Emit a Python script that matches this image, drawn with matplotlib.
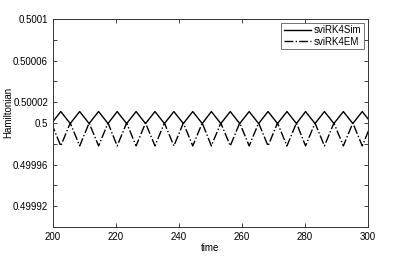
import numpy as np
import matplotlib.pyplot as plt

plt.rcParams['font.family'] = ['Liberation Sans', 'DejaVu Sans']

# times of the maxima of sviRK4Sim (= minima of sviRK4EM)
peak_times = [202.5, 208.5, 214.5, 220.4, 226.4, 232.4, 238.4, 244.4, 250.3,
              256.3, 262.3, 268.3, 274.3, 280.2, 286.2, 292.2, 298.2]
# times of the minima of sviRK4Sim (= maxima of sviRK4EM)
trough_times = [199.5, 205.5, 211.5, 217.5, 223.4, 229.4, 235.4, 241.4, 247.4,
                253.3, 259.3, 265.3, 271.3, 277.3, 283.2, 289.2, 295.2, 301.2]

sim_high = 0.5000110
sim_low = 0.4999995
em_high = 0.5000000
em_low = 0.4999780

yticks = [0.4999, 0.49992, 0.49994, 0.49996, 0.49998, 0.5,
          0.50002, 0.50004, 0.50006, 0.50008, 0.5001]
ytick_labels = ['', '0.49992', '', '0.49996', '', '0.5',
                '0.50002', '', '0.50006', '', '0.5001']
xticks = [200, 220, 240, 260, 280, 300]


def zigzag(t_hi, t_lo, v_hi, v_lo):
    t = np.array(t_hi + t_lo)
    v = np.array([v_hi] * len(t_hi) + [v_lo] * len(t_lo))
    order = np.argsort(t)
    return t[order], v[order]


t_sim, h_sim = zigzag(peak_times, trough_times, sim_high, sim_low)
t_em, h_em = zigzag(trough_times, peak_times, em_high, em_low)

fig = plt.figure(figsize=(4.07, 2.56), dpi=100)
ax = fig.add_axes([0.130, 0.113, 0.774, 0.813])

ax.plot(t_sim, h_sim, color='black', lw=1.0, label='sviRK4Sim')
ax.plot(t_em, h_em, color='black', lw=1.0, ls='-.', label='sviRK4EM')

ax.set_xlim(200, 300)
ax.set_ylim(0.4999, 0.5001)
ax.set_xticks(xticks)
ax.set_xticklabels([str(x) for x in xticks])
ax.set_yticks(yticks)
ax.set_yticklabels(ytick_labels)
ax.tick_params(direction='in', top=True, right=True, labelsize=7,
               length=3, width=0.6, colors='#222222', labelcolor='black')
for s in ax.spines.values():
    s.set_linewidth(0.7)
    s.set_color('#333333')

ax.set_xlabel('time', fontsize=7, labelpad=1)
ax.set_ylabel('Hamiltonian', fontsize=7)
ax.yaxis.set_label_coords(-0.125, 0.553)

leg = ax.legend(loc='upper right', fontsize=7, frameon=True, fancybox=False,
                handlelength=2.8, handletextpad=0.3, borderpad=0.25,
                labelspacing=0.15, borderaxespad=0.4)
leg.get_frame().set_edgecolor('#333333')
leg.get_frame().set_linewidth(0.6)

fig.savefig('out.png', dpi=100)
